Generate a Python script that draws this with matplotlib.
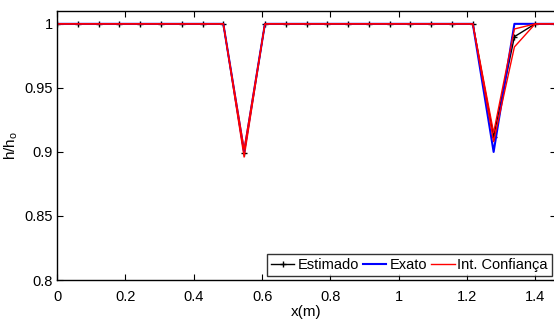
import numpy as np
import matplotlib.pyplot as plt

plt.rcParams['font.family'] = ['Liberation Sans', 'DejaVu Sans']

# Positions along the channel (25 nodes)
x = np.linspace(0, 1.46, 25)

# h/h0 values at each node
exato = [1, 1, 1, 1, 1, 1, 1, 1, 1, 0.900, 1, 1, 1, 1, 1, 1, 1, 1, 1, 1,
         1, 0.900, 1.000, 1, 1]
estimado = [1, 1, 1, 1, 1, 1, 1, 1, 1, 0.899, 1, 1, 1, 1, 1, 1, 1, 1, 1, 1,
            1, 0.912, 0.990, 1, 1]
ic_sup = [1, 1, 1, 1, 1, 1, 1, 1, 1, 0.902, 1, 1, 1, 1, 1, 1, 1, 1, 1, 1,
          1, 0.915, 0.996, 1, 1]
ic_inf = [1, 1, 1, 1, 1, 1, 1, 1, 1, 0.896, 1, 1, 1, 1, 1, 1, 1, 1, 1, 1,
          1, 0.908, 0.982, 1, 1]

fig = plt.figure(figsize=(5.54, 3.26), dpi=100)
ax = fig.add_axes([0.1029, 0.1411, 0.9007, 0.825])

ax.plot(x, estimado, "k-", marker="+", markersize=5, lw=1.0, label="Estimado")
ax.plot(x, exato, color="blue", lw=1.5, label="Exato")
ax.plot(x, ic_sup, color="red", lw=1.0, label="Int. Confiança")
ax.plot(x, ic_inf, color="red", lw=1.0)

ax.set_xlim(0, 1.46)
ax.set_ylim(0.8, 1.01)
ax.set_xticks([0, 0.2, 0.4, 0.6, 0.8, 1, 1.2, 1.4])
ax.set_xticklabels(["0", "0.2", "0.4", "0.6", "0.8", "1", "1.2", "1.4"])
ax.set_yticks([0.8, 0.85, 0.9, 0.95, 1])
ax.set_yticklabels(["0.8", "0.85", "0.9", "0.95", "1"])
ax.tick_params(direction="in", top=True, right=True, labelsize=10.5, length=4)
ax.tick_params(axis="x", pad=7)
ax.tick_params(axis="y", pad=3)
for s in ax.spines.values():
    s.set_linewidth(1.0)

ax.set_xlabel("x(m)", fontsize=11, labelpad=1)
ax.set_ylabel("h/h$_\\mathregular{o}$", fontsize=11, labelpad=3)

leg = ax.legend(loc="lower right", fontsize=10.5, frameon=True, fancybox=False,
                edgecolor="black", ncol=3, handlelength=1.6, handletextpad=0.2,
                columnspacing=0.3, borderpad=0.3, borderaxespad=0.25)
leg.get_frame().set_linewidth(1.0)

fig.savefig("out.png", dpi=100)
